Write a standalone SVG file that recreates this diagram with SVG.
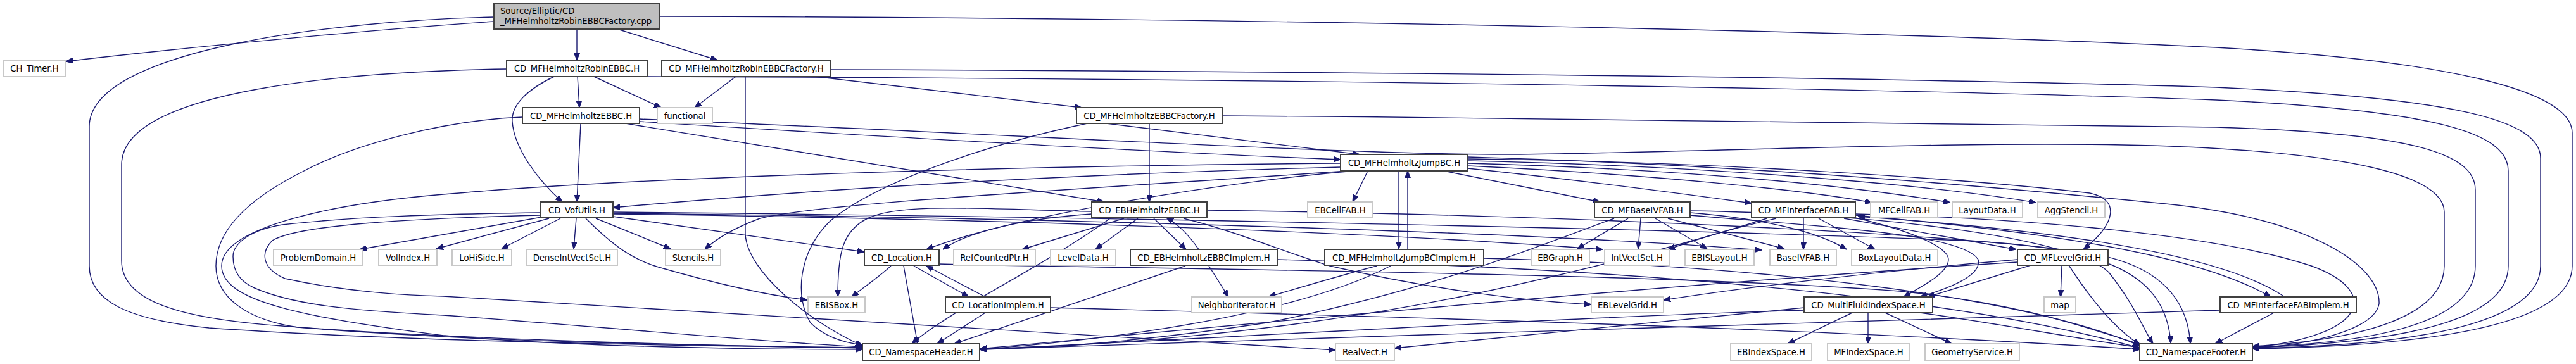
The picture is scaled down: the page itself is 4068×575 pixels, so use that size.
<svg xmlns="http://www.w3.org/2000/svg" width="4068" height="575" viewBox="0 0 4068 575">
<style>
.n rect{fill:#fff;stroke:#404040;stroke-width:2}
.x rect{fill:#fff;stroke:#c8c8c8;stroke-width:2}
.r rect{fill:#bfbfbf;stroke:#404040;stroke-width:2}
text{font-family:"DejaVu Sans","Liberation Sans",sans-serif;font-size:13.2px;fill:#000;text-anchor:middle}
.r text{text-anchor:start}
#edges path{fill:none;stroke:#191970;stroke-width:1.4;marker-end:url(#ah)}
</style>
<defs>
<marker id="ah" viewBox="0 0 10 8" refX="10" refY="4" markerWidth="11" markerHeight="9" markerUnits="userSpaceOnUse" orient="auto"><path d="M0,0 L10,4 L0,8 z" fill="#191970" stroke="#191970" stroke-width="1"/></marker>
</defs>
<rect width="4068" height="575" fill="#fff"/>
<g id="edges">
<path d="M780,34 C600,46 320,72 104,97"/>
<path d="M911,46 L911,95"/>
<path d="M975,46 L1133,95"/>
<path d="M780,27 C520,33 141,80 141,200 L141,420 C141,475 200,505 330,518 C650,540 1100,547 1362,549"/>
<path d="M1041,26 C2000,28 3000,50 3500,75 C3850,95 4062,140 4062,210 L4062,420 C4062,500 3900,545 3557,551"/>
<path d="M938,121 L1044,170"/>
<path d="M912,121 L915,170"/>
<path d="M875,121 C835,140 807,165 809,192 C812,235 850,285 888,319"/>
<path d="M800,109 C560,113 192,140 192,260 L192,412 C192,475 280,503 446,515 C700,535 1100,546 1362,550"/>
<path d="M1022,121 C2000,124 3000,140 3500,158 C3850,175 3961,210 3961,270 L3961,420 C3961,500 3820,540 3557,549"/>
<path d="M1162,121 L1097,170"/>
<path d="M1287,121 L1708,170"/>
<path d="M1177,121 L1177,370 C1180,430 1280,510 1362,546"/>
<path d="M1312,110 C2000,112 3000,122 3500,138 C3880,155 4012,190 4012,250 L4012,420 C4012,500 3860,545 3557,550"/>
<path d="M1010,192 C1300,210 1800,240 2117,252"/>
<path d="M1010,188 C1600,212 2150,246 2400,244 C2700,240 3100,222 3400,230 C3700,240 3860,275 3860,335 L3860,420 C3860,490 3760,535 3557,547"/>
<path d="M917,195 L911,319"/>
<path d="M988,195 L1744,319"/>
<path d="M825,185 C700,190 560,228 480,270 C400,310 341,360 341,420 C341,470 390,505 470,517 C750,540 1100,546 1362,549"/>
<path d="M1747,195 L2147,244"/>
<path d="M1815,195 L1815,319"/>
<path d="M1717,195 C1550,230 1380,290 1310,350 C1260,400 1255,470 1280,510 C1300,530 1330,541 1362,545"/>
<path d="M1930,183 C2500,186 3100,195 3500,201 C3800,210 3909,240 3909,300 L3909,420 C3909,495 3800,540 3557,548"/>
<path d="M2160,270 L2136,319"/>
<path d="M2209,270 L2209,393"/>
<path d="M2223,393 L2223,270"/>
<path d="M2117,264 C1700,275 1300,298 968,328"/>
<path d="M2128,270 C1700,300 1300,320 1200,345 C1160,360 1130,378 1113,394"/>
<path d="M2140,270 C1950,285 1600,340 1463,394"/>
<path d="M2117,258 C1600,262 1000,280 700,307 C520,322 350,360 350,420 C350,475 470,500 700,530 C900,548 1200,552 1362,552"/>
<path d="M2280,270 L2527,319"/>
<path d="M2318,266 C2500,285 2650,305 2766,321"/>
<path d="M2318,262 C2600,275 2850,300 2956,320"/>
<path d="M2318,258 C2700,268 2950,298 3080,320"/>
<path d="M2318,254 C2700,262 3050,292 3215,320"/>
<path d="M2318,251 C2700,255 3100,282 3300,305 C3350,315 3340,355 3290,394"/>
<path d="M2318,248 C2800,262 3200,300 3420,322 C3650,345 3760,420 3757,480 C3750,520 3650,545 3557,550"/>
<path d="M855,343 L568,394"/>
<path d="M867,345 L689,393"/>
<path d="M885,345 L792,393"/>
<path d="M910,345 L906,393"/>
<path d="M941,345 L1059,393"/>
<path d="M925,345 C970,390 1000,410 1040,422 C1120,445 1200,465 1275,474"/>
<path d="M968,342 L1365,398"/>
<path d="M854,336 C700,338 560,342 446,355 C395,363 368,385 368,405 C368,430 380,445 402,455 C460,480 540,490 700,498 C1000,520 1200,540 1362,548"/>
<path d="M854,340 C650,345 470,355 430,380 C410,400 415,425 450,440 C550,462 650,467 700,468 C1100,490 1700,530 2109,553"/>
<path d="M968,338 C1500,345 2100,362 2531,394"/>
<path d="M968,337 C1600,343 2400,365 2782,395"/>
<path d="M968,335 C1700,342 2600,360 3100,380 C3300,390 3420,420 3428,542"/>
<path d="M1724,338 C1620,345 1530,365 1489,394"/>
<path d="M1775,345 L1614,394"/>
<path d="M1797,345 L1730,394"/>
<path d="M1822,345 L1873,394"/>
<path d="M1893,394 C1880,375 1862,355 1842,344"/>
<path d="M1724,334 C1550,330 1420,320 1370,345 C1330,365 1323,400 1323,469"/>
<path d="M1869,345 C1950,365 2020,395 2100,420 C2250,455 2400,475 2513,481"/>
<path d="M1906,332 C2500,340 3100,370 3300,400 C3420,420 3455,480 3459,543"/>
<path d="M1753,345 C1650,420 1500,490 1440,543"/>
<path d="M1909,420 L1940,469"/>
<path d="M1872,420 L1507,543"/>
<path d="M2017,410 C2600,425 3100,470 3379,550"/>
<path d="M2174,420 C2100,440 2050,455 2003,469"/>
<path d="M2196,420 C2100,470 1900,525 1547,552"/>
<path d="M2343,408 C2800,420 3200,470 3379,546"/>
<path d="M1443,420 L1530,469"/>
<path d="M1556,469 L1463,420"/>
<path d="M1427,420 L1449,543"/>
<path d="M1407,420 C1385,440 1362,455 1345,469"/>
<path d="M1483,417 C1800,425 2600,430 3000,460 C3200,480 3300,520 3380,544"/>
<path d="M1556,494 L1480,543"/>
<path d="M1659,486 C2200,500 2900,520 3380,552"/>
<path d="M2571,345 L2491,393"/>
<path d="M2591,345 L2587,393"/>
<path d="M2614,345 L2696,393"/>
<path d="M2634,345 L2818,393"/>
<path d="M2549,345 C2400,400 2250,460 2000,510 C1800,540 1650,550 1547,552"/>
<path d="M2669,340 C2900,360 3100,370 3124,410 C3130,435 3080,455 3032,469"/>
<path d="M2669,336 C2780,345 2870,365 2916,394"/>
<path d="M2669,333 C3000,338 3280,380 3330,430 C3370,480 3385,520 3400,543"/>
<path d="M2848,345 L2848,394"/>
<path d="M2872,345 L2961,394"/>
<path d="M2912,345 L3184,394"/>
<path d="M2805,345 C2720,365 2680,378 2634,394"/>
<path d="M2930,340 C3150,360 3450,390 3586,469"/>
<path d="M3608,469 C3500,395 3200,360 2934,342"/>
<path d="M2930,344 C3040,370 3077,395 3077,410 C3077,430 3040,450 3006,469"/>
<path d="M2790,345 C2650,390 2450,440 2300,470 C2000,530 1700,548 1547,551"/>
<path d="M2930,338 C3200,345 3500,370 3650,420 C3760,460 3740,530 3557,549"/>
<path d="M3256,419 L3254,469"/>
<path d="M3267,419 C3300,470 3340,520 3380,545"/>
<path d="M3186,410 C2950,430 2750,455 2627,474"/>
<path d="M3207,419 L3044,469"/>
<path d="M3186,414 C2700,445 2200,490 1547,551"/>
<path d="M2925,494 L2823,543"/>
<path d="M2950,494 L2950,543"/>
<path d="M2977,494 L3082,543"/>
<path d="M3032,494 C3150,510 3280,535 3379,549"/>
<path d="M2849,490 C2500,500 2000,530 1547,552"/>
<path d="M2849,486 L2202,550"/>
<path d="M3591,494 L3498,543"/>
<path d="M3506,490 C3000,505 2200,530 1547,552"/>
</g>
<g id="n_root" class="r"><rect x="780" y="6" width="261" height="40"/><text x="790" y="22">Source/Elliptic/CD</text><text x="790" y="38">_MFHelmholtzRobinEBBCFactory.cpp</text></g>
<g id="n_timer" class="x"><rect x="5" y="95" width="99" height="26"/><text x="54.5" y="113">CH_Timer.H</text></g>
<g id="n_robin" class="n"><rect x="800" y="95" width="222" height="26"/><text x="911" y="113">CD_MFHelmholtzRobinEBBC.H</text></g>
<g id="n_robinfac" class="n"><rect x="1045" y="95" width="267" height="26"/><text x="1178.5" y="113">CD_MFHelmholtzRobinEBBCFactory.H</text></g>
<g id="n_ebbc" class="n"><rect x="825" y="170" width="185" height="25"/><text x="917.5" y="187.5">CD_MFHelmholtzEBBC.H</text></g>
<g id="n_functional" class="x"><rect x="1038" y="170" width="87" height="25"/><text x="1081.5" y="187.5">functional</text></g>
<g id="n_ebbcfac" class="n"><rect x="1700" y="170" width="230" height="25"/><text x="1815" y="187.5">CD_MFHelmholtzEBBCFactory.H</text></g>
<g id="n_jump" class="n"><rect x="2117" y="244" width="201" height="26"/><text x="2217.5" y="262">CD_MFHelmholtzJumpBC.H</text></g>
<g id="n_vof" class="n"><rect x="854" y="319" width="114" height="25"/><text x="911" y="336.5">CD_VofUtils.H</text></g>
<g id="n_ebh" class="n"><rect x="1724" y="319" width="182" height="25"/><text x="1815" y="336.5">CD_EBHelmholtzEBBC.H</text></g>
<g id="n_ebcellfab" class="x"><rect x="2065" y="319" width="103" height="25"/><text x="2116.5" y="336.5">EBCellFAB.H</text></g>
<g id="n_mfbaseivfab" class="n"><rect x="2518" y="319" width="151" height="25"/><text x="2593.5" y="336.5">CD_MFBaseIVFAB.H</text></g>
<g id="n_mfinterfacefab" class="n"><rect x="2766" y="319" width="164" height="25"/><text x="2848" y="336.5">CD_MFInterfaceFAB.H</text></g>
<g id="n_mfcellfab" class="x"><rect x="2954" y="319" width="106" height="25"/><text x="3007" y="336.5">MFCellFAB.H</text></g>
<g id="n_layoutdata" class="x"><rect x="3083" y="319" width="111" height="25"/><text x="3138.5" y="336.5">LayoutData.H</text></g>
<g id="n_aggstencil" class="x"><rect x="3218" y="319" width="106" height="25"/><text x="3271" y="336.5">AggStencil.H</text></g>
<g id="n_problemdomain" class="x"><rect x="432" y="394" width="141" height="25"/><text x="502.5" y="411.5">ProblemDomain.H</text></g>
<g id="n_volindex" class="x"><rect x="598" y="394" width="92" height="25"/><text x="644" y="411.5">VolIndex.H</text></g>
<g id="n_lohiside" class="x"><rect x="714" y="394" width="94" height="25"/><text x="761" y="411.5">LoHiSide.H</text></g>
<g id="n_denseivs" class="x"><rect x="832" y="394" width="143" height="25"/><text x="903.5" y="411.5">DenseIntVectSet.H</text></g>
<g id="n_stencils" class="x"><rect x="1051" y="394" width="87" height="25"/><text x="1094.5" y="411.5">Stencils.H</text></g>
<g id="n_location" class="n"><rect x="1365" y="394" width="118" height="25"/><text x="1424" y="411.5">CD_Location.H</text></g>
<g id="n_refcounted" class="x"><rect x="1506" y="394" width="129" height="25"/><text x="1570.5" y="411.5">RefCountedPtr.H</text></g>
<g id="n_leveldata" class="x"><rect x="1659" y="394" width="103" height="25"/><text x="1710.5" y="411.5">LevelData.H</text></g>
<g id="n_ebhimplem" class="n"><rect x="1785" y="394" width="232" height="25"/><text x="1901" y="411.5">CD_EBHelmholtzEBBCImplem.H</text></g>
<g id="n_jumpimplem" class="n"><rect x="2092" y="394" width="251" height="25"/><text x="2217.5" y="411.5">CD_MFHelmholtzJumpBCImplem.H</text></g>
<g id="n_ebgraph" class="x"><rect x="2418" y="394" width="92" height="25"/><text x="2464" y="411.5">EBGraph.H</text></g>
<g id="n_intvectset" class="x"><rect x="2534" y="394" width="102" height="25"/><text x="2585" y="411.5">IntVectSet.H</text></g>
<g id="n_ebislayout" class="x"><rect x="2661" y="394" width="109" height="25"/><text x="2715.5" y="411.5">EBISLayout.H</text></g>
<g id="n_baseivfab" class="x"><rect x="2795" y="394" width="105" height="25"/><text x="2847.5" y="411.5">BaseIVFAB.H</text></g>
<g id="n_boxlayoutdata" class="x"><rect x="2924" y="394" width="136" height="25"/><text x="2992" y="411.5">BoxLayoutData.H</text></g>
<g id="n_mflevelgrid" class="n"><rect x="3186" y="394" width="143" height="25"/><text x="3257.5" y="411.5">CD_MFLevelGrid.H</text></g>
<g id="n_ebisbox" class="x"><rect x="1276" y="469" width="90" height="25"/><text x="1321" y="486.5">EBISBox.H</text></g>
<g id="n_locimplem" class="n"><rect x="1493" y="469" width="166" height="25"/><text x="1576" y="486.5">CD_LocationImplem.H</text></g>
<g id="n_neighbor" class="x"><rect x="1882" y="469" width="142" height="25"/><text x="1953" y="486.5">NeighborIterator.H</text></g>
<g id="n_eblevelgrid" class="x"><rect x="2513" y="469" width="114" height="25"/><text x="2570" y="486.5">EBLevelGrid.H</text></g>
<g id="n_mfis" class="n"><rect x="2849" y="469" width="203" height="25"/><text x="2950.5" y="486.5">CD_MultiFluidIndexSpace.H</text></g>
<g id="n_map" class="x"><rect x="3228" y="469" width="50" height="25"/><text x="3253" y="486.5">map</text></g>
<g id="n_mfifimplem" class="n"><rect x="3506" y="469" width="215" height="25"/><text x="3613.5" y="486.5">CD_MFInterfaceFABImplem.H</text></g>
<g id="n_nsheader" class="n"><rect x="1362" y="543" width="185" height="26"/><text x="1454.5" y="561">CD_NamespaceHeader.H</text></g>
<g id="n_realvect" class="x"><rect x="2109" y="543" width="93" height="26"/><text x="2155.5" y="561">RealVect.H</text></g>
<g id="n_ebindexspace" class="x"><rect x="2733" y="543" width="128" height="26"/><text x="2797" y="561">EBIndexSpace.H</text></g>
<g id="n_mfindexspace" class="x"><rect x="2886" y="543" width="130" height="26"/><text x="2951" y="561">MFIndexSpace.H</text></g>
<g id="n_geomservice" class="x"><rect x="3040" y="543" width="149" height="26"/><text x="3114.5" y="561">GeometryService.H</text></g>
<g id="n_nsfooter" class="n"><rect x="3379" y="543" width="178" height="26"/><text x="3468" y="561">CD_NamespaceFooter.H</text></g>
</svg>
